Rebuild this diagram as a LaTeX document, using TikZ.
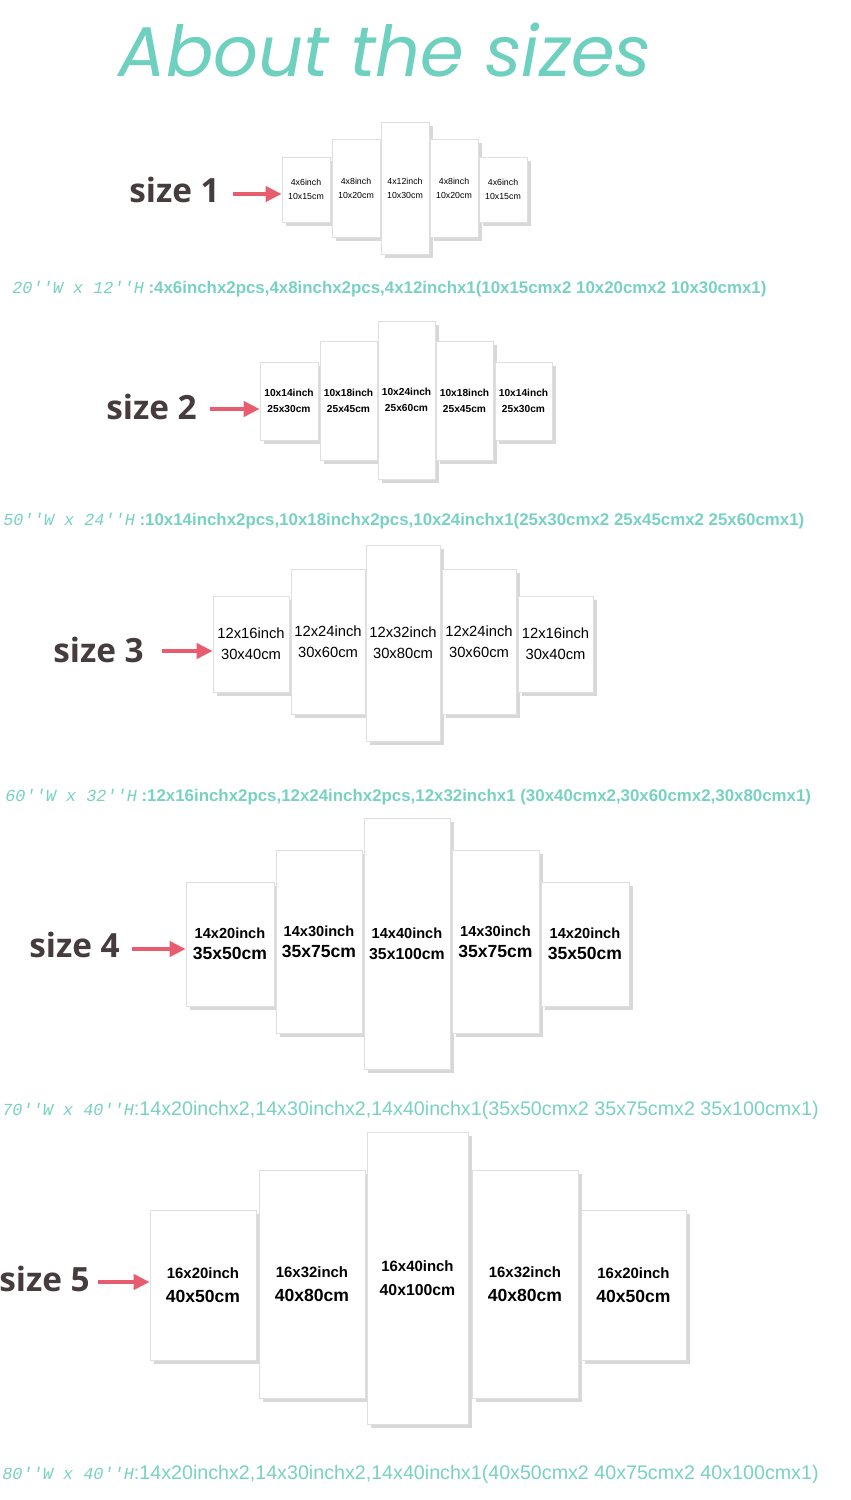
\documentclass[tikz,border=0pt]{standalone}
\usepackage{fontspec}
\setmainfont{Liberation Sans}
\newfontfamily\monof{Liberation Mono}
\newfontfamily\titlef{Poppins}
\newfontfamily\lblf{Open Sans}
\usetikzlibrary{shadows,arrows.meta}
\definecolor{teal1}{RGB}{110,208,190}
\definecolor{capc}{RGB}{120,210,195}
\definecolor{pink1}{RGB}{232,92,112}
\definecolor{dgray}{RGB}{70,60,62}
\tikzset{
  panel/.style={fill=white, draw=gray!25, inner sep=0pt, align=center,
    drop shadow={opacity=0.3, shadow xshift=2pt, shadow yshift=-2pt}},
  lbl/.style={text=dgray, font=\lblf\bfseries\fontsize{19}{22}\selectfont, anchor=east},
  arr/.style={draw=pink1, line width=0.09cm, -{Triangle[length=0.32cm,width=0.3cm]}},
  captxt/.style={text=capc, anchor=west, font=\bfseries\fontsize{9.6}{10}\selectfont, inner sep=0pt},
  captxtb/.style={text=capc, anchor=west, font=\fontsize{11.2}{12}\selectfont, inner sep=0pt}
}
\newcommand\pnl[8]{%
  \node[panel, font=#8, minimum width={(#4-#2)*0.02cm}, minimum height={(#5-#3)*0.02cm}]
   (#1) at ({(#2+#4)/2},{(#3+#5)/2}) {#6\\[2pt]#7};}
\begin{document}
\begin{tikzpicture}[x=0.02cm,y=-0.02cm]
\useasboundingbox[fill=white] (0,0) rectangle (851,1500);
\node[text=teal1, font=\titlef\itshape\fontsize{40}{44}\selectfont] (title) at (385,50) {About the sizes};
% size 1
\def\fa{\fontsize{5}{6}\selectfont}
\pnl{p11}{282}{157}{330}{222}{4x6inch}{10x15cm}{\fa}
\pnl{p12}{332}{139}{380}{237}{4x8inch}{10x20cm}{\fa}
\pnl{p13}{381}{122}{429}{254}{4x12inch}{10x30cm}{\fa}
\pnl{p14}{430}{139}{478}{237}{4x8inch}{10x20cm}{\fa}
\pnl{p15}{479}{157}{527}{222}{4x6inch}{10x15cm}{\fa}
\node[lbl] (s1) at (226,190) {size 1};
\coordinate (a1) at (233,194);
\draw[arr] (a1) -- (a1 -| p11.west);
\node[captxt] (c1) at (12,289) {{\monof\itshape\mdseries 20''W x 12''H} :4x6inchx2pcs,4x8inchx2pcs,4x12inchx1(10x15cmx2 10x20cmx2 10x30cmx1)};
% size 2
\def\fb{\bfseries\fontsize{5.8}{7}\selectfont}
\pnl{p21}{260}{362}{318}{440}{10x14inch}{25x30cm}{\fb}
\pnl{p22}{320}{341}{377}{460}{10x18inch}{25x45cm}{\fb}
\pnl{p23}{378}{321}{435}{479}{10x24inch}{25x60cm}{\fb}
\pnl{p24}{436}{341}{493}{460}{10x18inch}{25x45cm}{\fb}
\pnl{p25}{495}{362}{552}{440}{10x14inch}{25x30cm}{\fb}
\node[lbl] (s2) at (203,407) {size 2};
\coordinate (a2) at (210,409);
\draw[arr] (a2) -- (a2 -| p21.west);
\node[captxt] (c2) at (3,521) {{\monof\itshape\mdseries 50''W x 24''H} :10x14inchx2pcs,10x18inchx2pcs,10x24inchx1(25x30cmx2 25x45cmx2 25x60cmx1)};
% size 3
\def\fc{\fontsize{8.4}{10}\selectfont}
\pnl{p31}{213}{596}{289}{692}{12x16inch}{30x40cm}{\fc}
\pnl{p32}{291}{569}{365}{714}{12x24inch}{30x60cm}{\fc}
\pnl{p33}{366}{545}{440}{741}{12x32inch}{30x80cm}{\fc}
\pnl{p34}{442}{569}{516}{714}{12x24inch}{30x60cm}{\fc}
\pnl{p35}{518}{596}{593}{692}{12x16inch}{30x40cm}{\fc}
\node[lbl] (s3) at (150,650) {size 3};
\coordinate (a3) at (162,651);
\draw[arr] (a3) -- (a3 -| p31.west);
\node[captxt] (c3) at (5,797) {{\monof\itshape\mdseries 60''W x 32''H} :12x16inchx2pcs,12x24inchx2pcs,12x32inchx1 (30x40cmx2,30x60cmx2,30x80cmx1)};
% size 4
\def\fd{\bfseries\fontsize{8.3}{10}\selectfont}
\pnl{p41}{186}{882}{274}{1006}{14x20inch}{\fontsize{10}{11}\selectfont 35x50cm}{\fd}
\pnl{p42}{276}{850}{362}{1033}{14x30inch}{\fontsize{10}{11}\selectfont 35x75cm}{\fd}
\pnl{p43}{364}{818}{450}{1069}{14x40inch}{\fontsize{9}{11}\selectfont 35x100cm}{\fd}
\pnl{p44}{452}{850}{539}{1033}{14x30inch}{\fontsize{10}{11}\selectfont 35x75cm}{\fd}
\pnl{p45}{541}{882}{629}{1006}{14x20inch}{\fontsize{10}{11}\selectfont 35x50cm}{\fd}
\node[lbl] (s4) at (126,945) {size 4};
\coordinate (a4) at (132,949);
\draw[arr] (a4) -- (a4 -| p41.west);
\node[captxtb] (c4) at (2,1110) {{\monof\itshape\fontsize{9.6}{10}\selectfont 70''W x 40''H}:14x20inchx2,14x30inchx2,14x40inchx1(35x50cmx2 35x75cmx2 35x100cmx1)};
% size 5
\def\fe{\bfseries\fontsize{8.5}{12}\selectfont}
\pnl{p51}{150}{1210}{256}{1360}{16x20inch}{\fontsize{10}{12}\selectfont 40x50cm}{\fe}
\pnl{p52}{259}{1170}{365}{1398}{16x32inch}{\fontsize{10}{12}\selectfont 40x80cm}{\fe}
\pnl{p53}{367}{1132}{468}{1424}{16x40inch}{\fontsize{9}{12}\selectfont 40x100cm}{\fe}
\pnl{p54}{472}{1170}{578}{1398}{16x32inch}{\fontsize{10}{12}\selectfont 40x80cm}{\fe}
\pnl{p55}{581}{1210}{686}{1360}{16x20inch}{\fontsize{10}{12}\selectfont 40x50cm}{\fe}
\node[lbl] (s5) at (96,1279) {size 5};
\coordinate (a5) at (98,1282);
\draw[arr] (a5) -- (a5 -| p51.west);
\node[captxtb] (c5) at (2,1474) {{\monof\itshape\fontsize{9.6}{10}\selectfont 80''W x 40''H}:14x20inchx2,14x30inchx2,14x40inchx1(40x50cmx2 40x75cmx2 40x100cmx1)};
\end{tikzpicture}
\end{document}
